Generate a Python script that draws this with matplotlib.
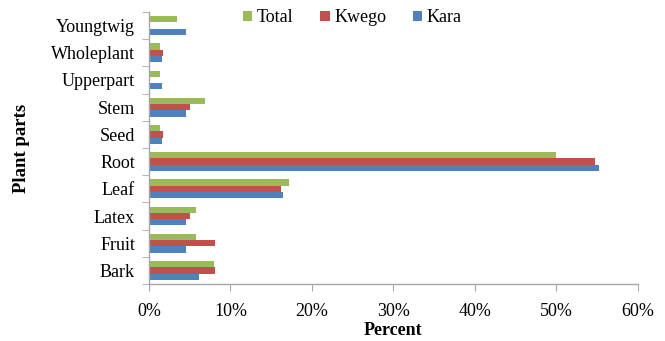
import matplotlib
matplotlib.use("Agg")
import matplotlib.pyplot as plt
import numpy as np
from matplotlib.ticker import PercentFormatter

parts = ["Bark", "Fruit", "Latex", "Leaf", "Root", "Seed", "Stem",
         "Upperpart", "Wholeplant", "Youngtwig"]
total = [8.0, 5.8, 5.8, 17.2, 50.0, 1.3, 6.9, 1.3, 1.3, 3.5]
kwego = [8.1, 8.1, 5.0, 16.2, 54.7, 1.7, 5.0, 0.0, 1.7, 0.0]
kara = [6.1, 4.5, 4.5, 16.5, 55.2, 1.6, 4.5, 1.6, 1.6, 4.5]

series_names = ["Kara", "Kwego", "Total"]
series_values = [kara, kwego, total]
colors = ["#4F81BD", "#C0504D", "#9BBB59"]

plt.rcParams["font.family"] = ["Liberation Serif", "DejaVu Serif"]
FS = 13

fig = plt.figure(figsize=(6.65, 3.41), dpi=100)
ax = fig.add_axes([0.224, 0.167, 0.735, 0.798])

y = np.arange(len(parts))
h = 0.23
offsets = [-h, 0, h]
handles = {}
for name, vals, c, off in zip(series_names, series_values, colors, offsets):
    bars = ax.barh(y + off, vals, height=h, color=c, edgecolor="none", label=name)
    handles[name] = bars

ax.set_xlim(0, 60)
ax.set_ylim(-0.5, len(parts) - 0.5)
ax.set_xticks(np.arange(0, 61, 10))
ax.xaxis.set_major_formatter(PercentFormatter(decimals=0))
ax.set_yticks(y)
ax.set_yticklabels(parts)
ax.set_yticks(np.arange(-0.5, len(parts), 1), minor=True)
ax.tick_params(axis="y", which="major", length=0, pad=10, labelsize=FS)
ax.tick_params(axis="y", which="minor", length=5, color="#A6A6A6", direction="out")
ax.tick_params(axis="x", length=5, color="#A6A6A6", direction="out", labelsize=FS, pad=9)

for s in ["top", "right"]:
    ax.spines[s].set_visible(False)
for s in ["left", "bottom"]:
    ax.spines[s].set_color("#A6A6A6")
    ax.spines[s].set_linewidth(1.0)

ax.set_xlabel("Percent", fontsize=FS, fontweight="bold", labelpad=1)
ax.set_ylabel("Plant parts", fontsize=FS + 0.5, fontweight="bold")
ax.yaxis.set_label_coords(-0.243, 0.5)

leg = fig.legend([handles["Total"], handles["Kwego"], handles["Kara"]],
                 ["Total", "Kwego", "Kara"],
                 loc="center", bbox_to_anchor=(0.53, 0.948), ncol=3,
                 frameon=False, fontsize=FS, handlelength=0.5, handleheight=0.5,
                 handletextpad=0.25, columnspacing=1.5)

fig.savefig("out.png", dpi=100)
